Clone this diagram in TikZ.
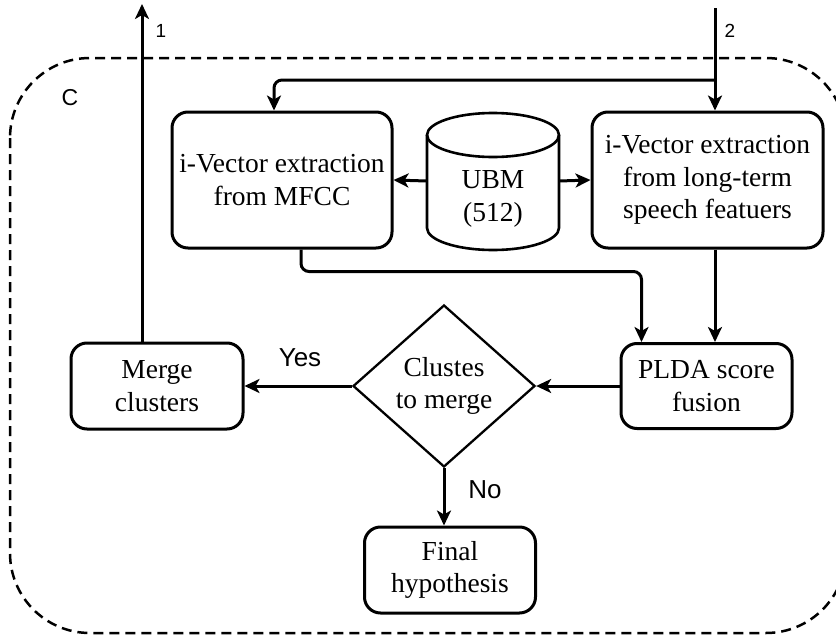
\documentclass[tikz,border=0pt]{standalone}
\usepackage{fontspec}
\setmainfont{Liberation Serif}
\newfontfamily\labelfont{Liberation Sans}
\usetikzlibrary{arrows.meta,shapes.geometric}

\tikzset{
  box/.style={draw, line width=3pt, rounded corners=16pt, align=center,
    inner sep=0pt, font=\fontsize{27.5}{32.5}\selectfont},
  txt/.style={align=center, inner sep=0pt, font=\fontsize{27.5}{32.5}\selectfont},
  decision/.style={diamond, draw, line width=2.3pt, align=center, inner sep=0pt,
    minimum width=182pt, minimum height=162pt,
    font=\fontsize{27.5}{32.5}\selectfont},
  arr/.style={line width=3pt, -{Stealth[length=15pt,width=14pt,inset=4pt]}},
  lbl/.style={inner sep=0pt, font=\labelfont\fontsize{26}{30}\selectfont},
  frame/.style={line width=2.5pt, dash pattern=on 10pt off 6pt, rounded corners=80pt},
}

\begin{document}
\begin{tikzpicture}[x=1pt, y=-1pt]
\clip (0,0) rectangle (836,637);

% outer dashed container
\draw[frame] (10,58) rectangle (846,633);
\node[lbl, font=\labelfont\fontsize{23}{26}\selectfont] (clabel) at (70,98) {C};

% feature extraction stage
\node[box, minimum width=220pt, minimum height=136pt] (mfcc) at (282,180)
  {i-Vector extraction\\from MFCC};
\node[box, minimum width=231pt, minimum height=136pt] (ltsf) at (707.5,180)
  {i-Vector extraction\\from long-term\\speech featuers};

% UBM database cylinder
\draw[line width=2.6pt] (427,135) -- (427,228) arc[start angle=180, end angle=0,
  x radius=66, y radius=22] -- (559,135);
\draw[line width=2.6pt] (493,135) ellipse[x radius=66, y radius=22];
\node[minimum width=132pt, minimum height=137pt, inner sep=0pt] (ubm) at (493,181) {};
\node[txt] (ubmtext) at (493,199) {UBM\\(512)};

% scoring and decision
\node[box, minimum width=171pt, minimum height=85pt] (plda) at (706.5,386)
  {PLDA score\\fusion};
\node[decision] (dia) at (444,386) {Clustes\\to merge};
\node[box, minimum width=172pt, minimum height=86pt] (merge) at (157,386)
  {Merge\\clusters};
\node[box, minimum width=171pt, minimum height=86pt] (final) at (450,570)
  {Final\\hypothesis};

% external input / output
\coordinate (out1) at (142,4);
\coordinate (in2) at (715,8);
\coordinate (split) at (715,80);
\node[lbl, font=\labelfont\fontsize{19}{22}\selectfont] (n1) at (161,31) {1};
\node[lbl, font=\labelfont\fontsize{19}{22}\selectfont] (n2) at (730,31) {2};

% connectors
\draw[arr] (merge.north -| out1) -- (out1);
\draw[arr] (in2) -- (in2 |- ltsf.north);
\draw[arr, rounded corners=8pt] (split) -| ([xshift=-8pt]mfcc.north);
\draw[arr] (ubm.west) -- (mfcc.east);
\draw[arr] (ubm.east) -- (ltsf.west);
\draw[arr, rounded corners=8pt] ([xshift=19pt]mfcc.south) -- ++(0,22)
  -| ([xshift=-65pt]plda.north);
\draw[arr] (in2 |- ltsf.south) -- (in2 |- plda.north);
\draw[arr] (plda.west) -- (dia.east);
\draw[arr] (dia.west) -- (merge.east);
\draw[arr] (dia.south) -- (dia.south |- final.north);

% branch labels
\node[lbl] (yes) at (300,358) {Yes};
\node[lbl] (no) at (485,490) {No};
\end{tikzpicture}
\end{document}
